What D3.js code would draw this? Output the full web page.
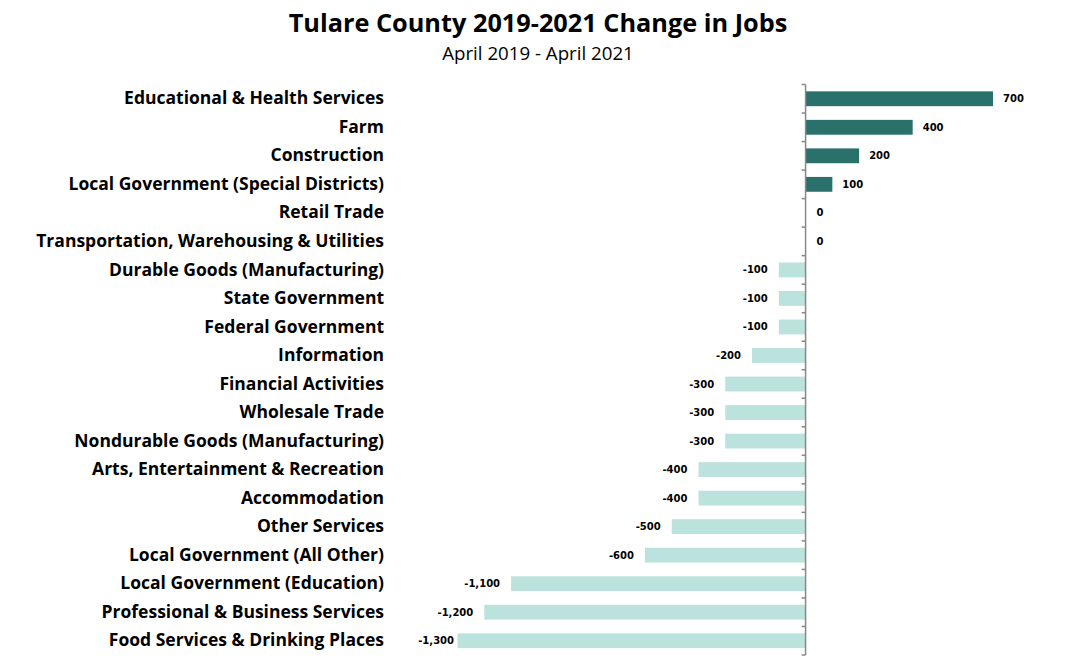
<!DOCTYPE html>
<html><head><meta charset="utf-8">
<script src="https://cdn.jsdelivr.net/npm/d3@7/dist/d3.min.js"></script>
<style>body{margin:0;background:#fff}</style>
</head><body>
<svg id="c" width="1078" height="669"></svg>
<script>
const categories = ["Educational & Health Services","Farm","Construction","Local Government (Special Districts)","Retail Trade","Transportation, Warehousing & Utilities","Durable Goods (Manufacturing)","State Government","Federal Government","Information","Financial Activities","Wholesale Trade","Nondurable Goods (Manufacturing)","Arts, Entertainment & Recreation","Accommodation","Other Services","Local Government (All Other)","Local Government (Education)","Professional & Business Services","Food Services & Drinking Places"];
const values = [700,400,200,100,0,0,-100,-100,-100,-200,-300,-300,-300,-400,-400,-500,-600,-1100,-1200,-1300];
const title = "Tulare County 2019-2021 Change in Jobs";
const subtitle = "April 2019 - April 2021";

const svg = d3.select("#c");
const x = d3.scaleLinear().domain([-1300, 700]).range([457.5, 993]);
const y = d3.scaleBand().domain(categories).range([84.5, 655]).paddingInner(0.48).paddingOuter(0.24);
const fmt = d => d3.format(",")(d).replace("\u2212", "-");
const catFont = "'Open Sans', sans-serif";

svg.append("text").attr("x", 538).attr("y", 32).attr("text-anchor","middle")
  .attr("font-family", catFont).attr("font-weight","bold").attr("font-size", 25.3).text(title);
svg.append("text").attr("x", 538).attr("y", 60).attr("text-anchor","middle")
  .attr("font-family", catFont).attr("font-size", 18.7).text(subtitle);

svg.selectAll("rect.bar").data(values).join("rect").attr("class","bar")
  .attr("x", d => x(Math.min(0,d))).attr("width", d => Math.abs(x(d)-x(0)))
  .attr("y", (d,i) => y(categories[i])).attr("height", y.bandwidth())
  .attr("fill", d => d > 0 ? "#2a716b" : "#bce2dd");

// axis line and ticks at band boundaries
const g = svg.append("g");
g.append("line").attr("x1", x(0)).attr("x2", x(0)).attr("y1", 84.5).attr("y2", 655)
  .attr("stroke","#888").attr("stroke-width",1.5);
const bounds = d3.range(categories.length+1).map(i => 84.5 + i*y.step());
g.selectAll("line.tick").data(bounds).join("line").attr("class","tick")
  .attr("x1", x(0)-4).attr("x2", x(0)).attr("y1", d=>d).attr("y2", d=>d)
  .attr("stroke","#888").attr("stroke-width",1.5);

// category labels
svg.selectAll("text.cat").data(categories).join("text").attr("class","cat")
  .attr("x", 384).attr("y", d => y(d)+y.bandwidth()/2 - 0.5).attr("dy","0.35em")
  .attr("text-anchor","end").attr("font-family", catFont).attr("font-weight","bold")
  .attr("font-size", 17.5).attr("fill","#000").text(d => d);

// value labels
svg.selectAll("text.val").data(values).join("text").attr("class","val")
  .attr("x", d => d >= 0 ? x(d) + (d===0 ? 11 : 10) : Math.max(x(d) - 11, 454))
  .attr("y", (d,i) => y(categories[i]) + y.bandwidth()/2).attr("dy","0.35em")
  .attr("text-anchor", d => d >= 0 ? "start" : "end")
  .attr("font-family","'DejaVu Sans', Verdana, sans-serif").attr("font-weight","bold")
  .attr("font-size", 10).attr("fill","#000").text(d => fmt(d));
</script>
</body></html>
